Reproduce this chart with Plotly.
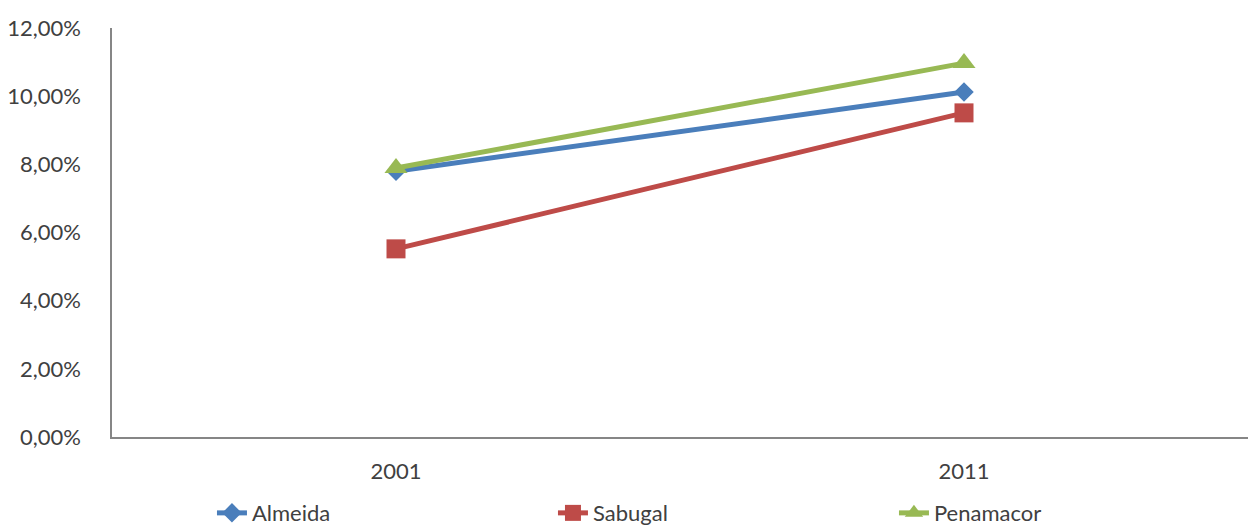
import plotly.graph_objects as go

years = ["2001", "2011"]
almeida = [0.0780, 0.1012]
sabugal = [0.0552, 0.0951]
penamacor = [0.0789, 0.1097]

series = [
    ("Almeida", almeida, "#4A7EBB", "diamond", 15),
    ("Sabugal", sabugal, "#BE4B48", "square", 19),
    ("Penamacor", penamacor, "#98B954", "triangle-up", 20),
]

fig = go.Figure()
for name, vals, color, symbol, size in series:
    fig.add_trace(go.Scatter(
        x=years, y=vals, name=name, mode="lines+markers",
        line=dict(color=color, width=5),
        marker=dict(symbol=symbol, size=size, color=color),
    ))

font_family = "Lato, 'Open Sans', sans-serif"
fig.update_layout(
    width=1252, height=525,
    margin=dict(l=112, r=4, t=28, b=88, autoexpand=False),
    paper_bgcolor="white", plot_bgcolor="white",
    separators=",.",
    font=dict(family=font_family, size=22, color="#404040"),
    showlegend=True,
    legend=dict(
        orientation="h", x=0.088, xanchor="left",
        y=-0.186, yanchor="middle",
        entrywidth=296, entrywidthmode="pixels",
        font=dict(size=22, color="#404040"),
        tracegroupgap=0,
    ),
    xaxis=dict(
        type="category", range=[-0.5, 1.5],
        showline=True, linecolor="#868686", linewidth=1.5,
        showgrid=False, ticks="", ticklabelstandoff=14,
    ),
    yaxis=dict(
        range=[0, 0.12], dtick=0.02, tickformat=".2%",
        showline=True, linecolor="#868686", linewidth=1.5,
        showgrid=False, zeroline=False, ticks="", ticklabelstandoff=25,
    ),
)

fig.write_html("out.html")
